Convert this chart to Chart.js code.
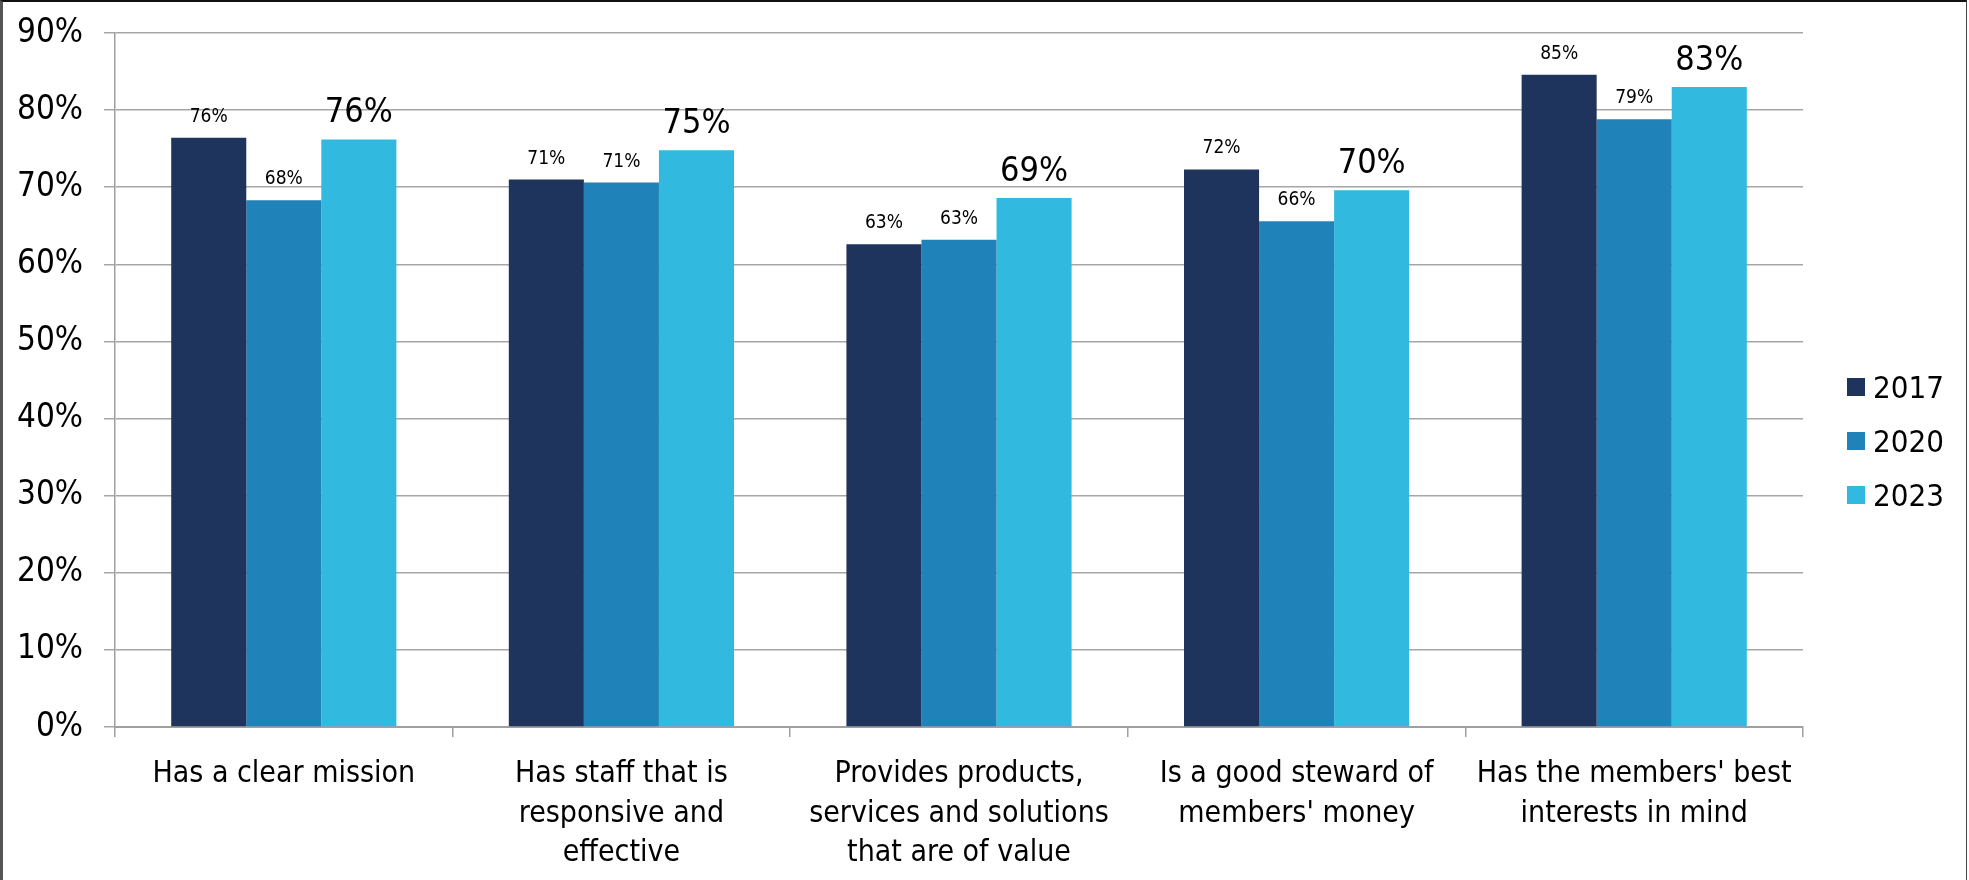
<!DOCTYPE html>
<html>
<head>
<meta charset="utf-8">
<script src="https://cdn.jsdelivr.net/npm/chart.js@4.4.1/dist/chart.umd.min.js"></script>
<style>
  html, body { margin: 0; padding: 0; background: #fff; }
  #wrap { position: relative; width: 1969px; height: 880px; overflow: hidden; }
  #myChart { position: absolute; left: 0; top: 0; }
  #frame {
    position: absolute; left: 0; top: 0; width: 1967px; height: 880px;
    border-top: 2px solid #111; border-left: 3px solid #555; border-right: 1px solid #444;
    box-sizing: border-box; pointer-events: none;
  }
  .legend { position: absolute; left: 1847px; top: 360px; font-family: 'DejaVu Sans Condensed', 'DejaVu Sans', sans-serif; font-size: 31px; color: #000; }
  .legend div { display: flex; align-items: center; height: 54px; }
  .legend span { display: inline-block; width: 18px; height: 18px; margin-right: 8px; }
</style>
</head>
<body>
<div id="wrap">
  <canvas id="myChart" width="1969" height="880"></canvas>
  <div class="legend" id="legend"></div>
  <div id="frame"></div>
</div>
<script>
const categories = [
    ['Has a clear mission'],
    ['Has staff that is', 'responsive and', 'effective'],
    ['Provides products,', 'services and solutions', 'that are of value'],
    ['Is a good steward of', "members' money"],
    ["Has the members' best", 'interests in mind']
];
const years = ['2017', '2020', '2023'];
const values2017 = [76.4, 71.0, 62.6, 72.3, 84.6];
const values2020 = [68.3, 70.6, 63.2, 65.6, 78.8];
const values2023 = [76.2, 74.8, 68.6, 69.6, 83.0];
const yTicks = [0, 10, 20, 30, 40, 50, 60, 70, 80, 90];

const colors = ['#1E345C', '#1F82B8', '#31B9DF'];
const fontFamily = "'DejaVu Sans Condensed', 'DejaVu Sans', sans-serif";

// value labels above the bars, last year printed bigger
const barLabels = {
    id: 'barLabels',
    afterDatasetsDraw(chart) {
        const ctx = chart.ctx;
        ctx.save();
        ctx.fillStyle = '#000';
        ctx.textAlign = 'center';
        ctx.textBaseline = 'alphabetic';
        chart.data.datasets.forEach((ds, i) => {
            const big = i === chart.data.datasets.length - 1;
            ctx.font = (big ? 34 : 19) + 'px ' + fontFamily;
            chart.getDatasetMeta(i).data.forEach((bar, j) => {
                ctx.fillText(Math.round(ds.data[j]) + '%', bar.x, bar.y - (big ? 17 : 16));
            });
        });
        ctx.restore();
    }
};

const seriesValues = [values2017, values2020, values2023];

new Chart(document.getElementById('myChart'), {
    type: 'bar',
    data: {
        labels: categories,
        datasets: years.map((y, i) => ({
            label: y,
            data: seriesValues[i],
            backgroundColor: colors[i],
            borderWidth: 0,
            categoryPercentage: 0.667,
            barPercentage: 1
        }))
    },
    options: {
        responsive: false,
        animation: false,
        layout: { padding: { left: 0, top: 33, right: 166, bottom: 0 } },
        plugins: { legend: { display: false }, tooltip: { enabled: false } },
        scales: {
            x: {
                grid: { offset: true, drawOnChartArea: false, drawTicks: true, tickLength: 10, color: '#a0a0a0', lineWidth: 1.5 },
                border: { color: '#a0a0a0', width: 2 },
                ticks: { color: '#000', padding: 18, maxRotation: 0, autoSkip: false, font: { family: fontFamily, size: 30, lineHeight: 1.31 } },
                afterFit(scale) { scale.height = 153; }
            },
            y: {
                min: 0,
                max: 90,
                afterBuildTicks(scale) { scale.ticks = yTicks.map(v => ({ value: v })); },
                grid: { color: '#a6a6a6', lineWidth: 1.5, tickLength: 11 },
                border: { color: '#a0a0a0', width: 1.5 },
                ticks: { color: '#000', padding: 21, font: { family: fontFamily, size: 33 }, callback: v => v + '%' },
                afterFit(scale) {
                    scale.width = 115;
                    // let the plot run up to the layout padding
                    scale.paddingTop = 0;
                    scale.paddingBottom = 0;
                }
            }
        }
    },
    plugins: [barLabels]
});

document.getElementById('legend').innerHTML = years.map((y, i) =>
    `<div><span style="background:${colors[i]}"></span>${y}</div>`).join('');
</script>
</body>
</html>
